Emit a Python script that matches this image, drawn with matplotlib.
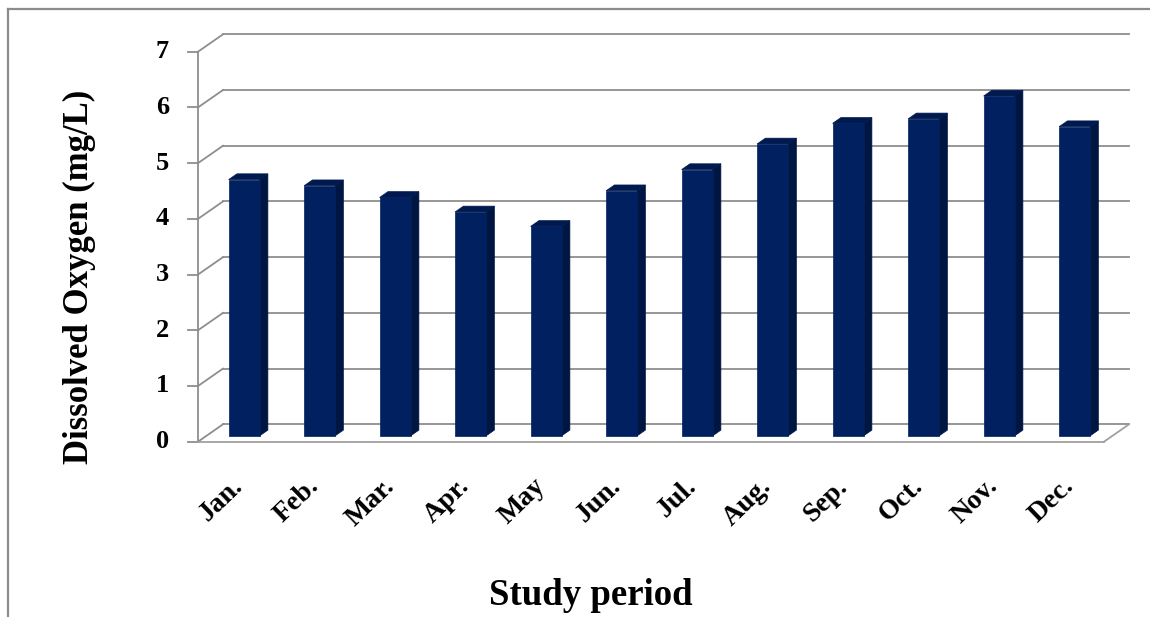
import matplotlib
matplotlib.use("Agg")
import matplotlib.pyplot as plt
from matplotlib.patches import Polygon
from matplotlib.lines import Line2D

months = ["Jan.", "Feb.", "Mar.", "Apr.", "May", "Jun.", "Jul.", "Aug.", "Sep.", "Oct.", "Nov.", "Dec."]
do_values = [4.60, 4.49, 4.28, 4.02, 3.76, 4.40, 4.78, 5.24, 5.61, 5.69, 6.10, 5.55]
y_ticks = [0, 1, 2, 3, 4, 5, 6, 7]

plt.rcParams['font.family'] = ['Liberation Serif', 'DejaVu Serif']
plt.rcParams['font.weight'] = 'bold'

W, H = 1150, 617
fig = plt.figure(figsize=(W / 100, H / 100), dpi=100)
fig.patch.set_facecolor('white')

ax = fig.add_axes([198 / W, (H - 441.7) / H, 906 / W, 390 / H])
ax.set_xlim(-0.5, len(months) - 0.5)
ax.set_ylim(0, 7)
ax.axis('off')

DU, DV = 0.331, 0.312          # full depth offset in data units
grid_c = '#8e8e8e'
glw = 1.3
x0, x1 = -0.5, len(months) - 0.5

# back wall gridlines + left wall diagonals
for k in y_ticks:
    ax.add_line(Line2D([x0 + DU, x1 + DU], [k + DV, k + DV], color=grid_c, lw=glw, clip_on=False, zorder=1))
    ax.add_line(Line2D([x0, x0 + DU], [k, k + DV], color=grid_c, lw=glw, clip_on=False, zorder=1))
    ax.add_line(Line2D([x0 - 0.13, x0], [k, k], color=grid_c, lw=glw, clip_on=False, zorder=1))
    ax.annotate(str(k), xy=(x0, k), xytext=(-21, 0), textcoords='offset points',
                ha='right', va='center', fontsize=19, fontweight='bold', annotation_clip=False)

# front axis & floor
ax.add_line(Line2D([x0, x0], [0, 7], color=grid_c, lw=glw, clip_on=False, zorder=1))
ax.add_line(Line2D([x0, x1], [0, 0], color='#a0a0a0', lw=glw, clip_on=False, zorder=1))
ax.add_line(Line2D([x1, x1 + DU], [0, DV], color='#a0a0a0', lw=glw, clip_on=False, zorder=1))

# 3D-like bars (occupying the middle third of the depth)
bw = 0.41
c_front, c_side, c_top = '#00205f', '#001642', '#001a4f'
d1u, d1v = DU / 3, DV / 3
d2u, d2v = 2 * DU / 3, 2 * DV / 3
for i, v in enumerate(do_values):
    l = i - bw / 2 + d1u
    r = i + bw / 2 + d1u
    su = d2u - d1u
    side = [(r, d1v), (r + su, d2v), (r + su, v + d2v), (r, v + d1v)]
    top = [(l, v + d1v), (r, v + d1v), (r + su, v + d2v), (l + su, v + d2v)]
    front = [(l, d1v), (r, d1v), (r, v + d1v), (l, v + d1v)]
    for pts, c in ((side, c_side), (top, c_top), (front, c_front)):
        ax.add_patch(Polygon(pts, closed=True, facecolor=c, edgecolor=c, lw=0.5,
                             clip_on=False, zorder=3))
    ax.annotate(months[i], xy=(i, 0), xytext=(6, -33), textcoords='offset points',
                ha='right', va='baseline', rotation=44, rotation_mode='anchor',
                fontsize=20, fontweight='bold', annotation_clip=False)

fig.text(79 / W, 1 - 277 / H, "Dissolved Oxygen (mg/L)", rotation=90, ha='center', va='center',
         fontsize=25, fontweight='bold')
fig.text(591 / W, 1 - 605 / H, "Study period", ha='center', va='baseline',
         fontsize=26.5, fontweight='bold')

# outer border (top & left)
fig.add_artist(Line2D([8 / W, 1], [1 - 9 / H, 1 - 9 / H], transform=fig.transFigure, color='#8c8c8c', lw=1.6))
fig.add_artist(Line2D([8 / W, 8 / W], [0, 1 - 9 / H], transform=fig.transFigure, color='#8c8c8c', lw=1.6))

fig.savefig("out.png", dpi=100, facecolor='white')
